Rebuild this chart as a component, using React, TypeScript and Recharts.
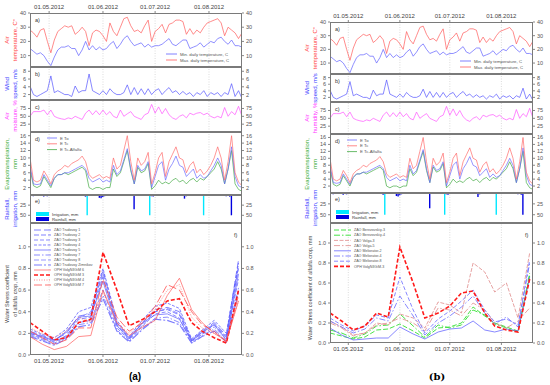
import React from 'react';
import { ComposedChart, Line, Bar, XAxis, YAxis, ReferenceLine } from 'recharts';

// day 0 = 20.04.2012, daily series sampled every 2 days
const STEP = 2;
const MONTH_DAYS = [11, 42, 72, 103];
const MONTH_LABELS = ['01.05.2012', '01.06.2012', '01.07.2012', '01.08.2012'];

const TMAX = [28, 26, 23, 28, 29, 20, 12, 21, 27, 29, 31, 30, 31, 25, 27, 30, 27, 17, 26, 28, 27, 24, 20, 33, 27, 24, 30, 36, 37, 31, 27, 28, 26, 31, 35, 20, 27, 29, 32, 26, 32, 33, 35, 35, 34, 25, 29, 25, 28, 26, 30, 33, 34, 35, 36, 33, 24, 30, 28, 26, 22, 26];
const TMIN = [15, 13, 11, 12, 10, 6, 3, 9, 14, 16, 16, 17, 15, 15, 10, 14, 20, 14, 17, 14, 16, 14, 15, 18, 20, 15, 18, 22, 24, 20, 17, 18, 19, 16, 18, 16, 17, 17, 18, 20, 22, 18, 17, 19, 21, 21, 15, 16, 17, 19, 16, 18, 20, 19, 22, 23, 20, 18, 21, 17, 17, 16];
const WIND = [4.2, 2, 1.5, 2, 2.5, 3, 6.8, 2.5, 3, 2.5, 2, 2, 1.5, 4.2, 2.5, 3, 3, 7.3, 3, 2.5, 2, 3, 2, 3.5, 2.5, 2, 2, 2.5, 4.5, 2, 3.8, 2, 3.5, 2, 3.5, 2, 3, 3.5, 2, 3, 3.8, 2.5, 3, 2, 2.8, 2, 2.5, 1.5, 2.5, 2, 3, 1.5, 2.5, 2, 2.5, 1.5, 2.5, 2, 4.8, 1.5, 3, 1];
const HUM = [50, 65, 65, 65, 70, 55, 70, 50, 45, 42, 40, 45, 42, 50, 45, 40, 60, 70, 55, 68, 55, 70, 55, 65, 50, 45, 70, 50, 58, 65, 50, 45, 40, 55, 60, 88, 60, 80, 58, 75, 55, 45, 40, 50, 55, 45, 60, 55, 60, 62, 55, 60, 50, 45, 50, 45, 78, 50, 65, 55, 82, 50];
const ETO = [8, 3, 2.8, 3, 5.5, 4, 2.5, 4.5, 5.5, 5.5, 6, 6, 6.5, 7, 7.5, 8, 7, 4.5, 3.5, 4, 4.5, 3.5, 4, 3.5, 8, 5.5, 6.5, 9.5, 12.5, 7, 3, 8, 6.5, 7, 9, 2, 5, 8, 9, 4, 7, 8.5, 10.5, 8, 7.5, 5, 6, 7, 4.5, 5.5, 4.5, 5, 6.5, 8, 10, 8, 3, 7, 13, 5, 2.5, 2];
const ETC = [10, 4, 3.5, 4, 6.5, 5, 3, 5.5, 6.5, 7, 8, 7.5, 8.5, 9, 9.5, 10.5, 9, 5.5, 4.5, 5, 5.5, 4.5, 5, 4.5, 10, 7, 8, 12, 16, 9, 4, 10, 8, 9, 11.5, 3, 6, 10, 11.5, 5, 9, 11, 13, 10, 9.5, 6, 8, 9, 6, 7, 5.5, 6.5, 8, 10, 13, 10, 4, 9, 16, 6, 3.5, 2.5];
const ETCA = [7, 2.5, 2, 2.5, 5, 3.5, 2, 4.5, 5.5, 5.5, 6, 5.5, 6, 6.5, 7, 7.5, 6.5, 2, 1.5, 2, 2, 1.5, 2, 2, 7, 5, 6, 9, 12, 6.5, 3, 7.5, 6, 6.5, 8.5, 1.5, 2.5, 4, 3, 3.5, 3, 4, 4.5, 3.5, 4, 3, 4, 4.5, 3.5, 4.5, 4, 5, 6, 7, 9, 7, 3, 7, 12, 3, 1.5, 1];

const IRR_DAYS = [33, 69, 100];
const IRR_MM = [50, 50, 50];
const RAIN_DAYS = [2, 5, 8, 10, 11, 32, 40, 41, 42, 43, 52, 59, 60, 70, 71, 79, 89, 90, 98, 106, 113, 115, 116];
const RAIN_MM = [3, 2, 4, 3, 2, 4, 7, 8, 5, 3, 2, 2, 35, 3, 4, 2, 9, 3, 2, 2, 3, 4, 50];

// water stress coefficient, weekly
const KS_DAYS = [0, 7, 14, 21, 28, 35, 42, 50, 57, 65, 72, 79, 86, 93, 99, 106, 113, 120];
const TRUD1 = [0.22, 0.18, 0.14, 0.2, 0.36, 0.38, 0.78, 0.3, 0.16, 0.3, 0.42, 0.44, 0.4, 0.14, 0.22, 0.3, 0.18, 0.88];
const TRUD2 = [0.2, 0.16, 0.12, 0.18, 0.33, 0.35, 0.72, 0.28, 0.15, 0.28, 0.4, 0.42, 0.37, 0.13, 0.2, 0.28, 0.16, 0.82];
const TRUD3 = [0.19, 0.15, 0.11, 0.17, 0.3, 0.32, 0.6, 0.25, 0.14, 0.27, 0.38, 0.4, 0.34, 0.12, 0.19, 0.26, 0.15, 0.7];
const TRUD4 = [0.24, 0.19, 0.16, 0.24, 0.4, 0.44, 0.8, 0.32, 0.17, 0.33, 0.45, 0.48, 0.43, 0.15, 0.23, 0.32, 0.2, 0.85];
const TRUD5 = [0.21, 0.17, 0.13, 0.22, 0.35, 0.36, 0.68, 0.27, 0.15, 0.3, 0.37, 0.38, 0.33, 0.13, 0.21, 0.28, 0.14, 0.75];
const TRUD7 = [0.18, 0.14, 0.1, 0.16, 0.28, 0.3, 0.55, 0.23, 0.13, 0.25, 0.34, 0.35, 0.3, 0.11, 0.18, 0.24, 0.13, 0.62];
const TRUD8 = [0.2, 0.17, 0.14, 0.21, 0.34, 0.4, 0.75, 0.29, 0.16, 0.31, 0.4, 0.43, 0.38, 0.14, 0.21, 0.29, 0.17, 0.8];
const TRUDZ = [0.17, 0.13, 0.09, 0.15, 0.26, 0.28, 0.52, 0.22, 0.12, 0.24, 0.33, 0.32, 0.28, 0.11, 0.17, 0.22, 0.12, 0.58];
const OPH6 = [0.17, 0.1, 0.05, 0.08, 0.17, 0.18, 0.6, 0.3, 0.18, 0.26, 0.32, 0.55, 0.71, 0.42, 0.3, 0.2, 0.13, 0.5];
const OPH3 = [0.3, 0.22, 0.14, 0.16, 0.3, 0.33, 0.95, 0.6, 0.27, 0.33, 0.4, 0.5, 0.52, 0.3, 0.22, 0.16, 0.11, 0.6];
const OPH4 = [0.25, 0.2, 0.16, 0.22, 0.35, 0.3, 0.58, 0.3, 0.2, 0.32, 0.42, 0.6, 0.65, 0.35, 0.25, 0.2, 0.14, 0.5];
const OPH7 = [0.22, 0.16, 0.1, 0.14, 0.25, 0.25, 0.7, 0.35, 0.22, 0.3, 0.45, 0.65, 0.6, 0.4, 0.28, 0.22, 0.12, 0.55];

const BER3 = [0.1, 0.07, 0.04, 0.06, 0.13, 0.14, 0.19, 0.12, 0.05, 0.15, 0.16, 0.2, 0.36, 0.27, 0.2, 0.16, 0.12, 0.67];
const BER4 = [0.13, 0.1, 0.05, 0.09, 0.17, 0.18, 0.29, 0.17, 0.06, 0.18, 0.15, 0.18, 0.33, 0.28, 0.19, 0.15, 0.11, 0.7];
const VOLGA3 = [0.22, 0.16, 0.08, 0.1, 0.2, 0.18, 0.29, 0.25, 0.15, 0.41, 0.38, 0.3, 0.8, 0.71, 0.51, 0.6, 0.25, 0.9];
const VOLGA5 = [0.2, 0.15, 0.07, 0.1, 0.18, 0.2, 0.25, 0.2, 0.12, 0.35, 0.33, 0.27, 0.4, 0.33, 0.2, 0.15, 0.22, 0.35];
const MEL2 = [0.15, 0.08, 0.03, 0.04, 0.05, 0.05, 0.16, 0.09, 0.04, 0.11, 0.14, 0.15, 0.22, 0.13, 0.11, 0.14, 0.12, 0.66];
const MEL4 = [0.22, 0.16, 0.1, 0.14, 0.25, 0.22, 0.47, 0.27, 0.08, 0.2, 0.27, 0.36, 0.47, 0.3, 0.19, 0.26, 0.16, 0.8];
const MEL8 = [0.25, 0.18, 0.12, 0.17, 0.28, 0.25, 0.66, 0.33, 0.1, 0.24, 0.32, 0.42, 0.53, 0.33, 0.21, 0.24, 0.18, 0.83];
const OPH3B = [0.3, 0.22, 0.13, 0.17, 0.3, 0.26, 0.96, 0.6, 0.25, 0.3, 0.37, 0.5, 0.52, 0.3, 0.17, 0.13, 0.11, 0.64];

const FONT = 'Arial, "Liberation Sans", sans-serif';
const AW = 14; // y axis band
const XH = 9; // date label band

const daily = TMAX.map((v, i) => ({
  day: i * STEP, tmax: v, tmin: TMIN[i], wind: WIND[i], hum: HUM[i], eto: ETO[i], etc: ETC[i], etca: ETCA[i],
}));
const events = [
  ...IRR_DAYS.map((d, i) => ({ day: d, irr: IRR_MM[i], rain: 0 })),
  ...RAIN_DAYS.map((d, i) => ({ day: d, irr: 0, rain: RAIN_MM[i] })),
].sort((a, b) => a.day - b.day);

const KS_A = [
  { key: 'ZAO Trudovoy 1', v: TRUD1, color: '#4a4aff', dash: '7 3', w: 0.7 },
  { key: 'ZAO Trudovoy 2', v: TRUD2, color: '#4a4aff', dash: '5 2', w: 0.7 },
  { key: 'ZAO Trudovoy 3', v: TRUD3, color: '#5a5aff', dash: '4 2', w: 0.7 },
  { key: 'ZAO Trudovoy 4', v: TRUD4, color: '#4a4aff', dash: '3 1.5', w: 0.7 },
  { key: 'ZAO Trudovoy 5', v: TRUD5, color: '#5a5aff', dash: undefined, w: 0.7 },
  { key: 'ZAO Trudovoy 7', v: TRUD7, color: '#5a5aff', dash: '6 2 1.5 2', w: 0.7 },
  { key: 'ZAO Trudovoy 8', v: TRUD8, color: '#6a6aff', dash: '5 2', w: 0.7 },
  { key: 'ZAO Trudovoy Zimnikov', v: TRUDZ, color: '#7a7aff', dash: '8 2 2 2', w: 1.1 },
  { key: 'OPH VolgNIIGiM 6', v: OPH6, color: '#ff5a5a', dash: undefined, w: 0.7 },
  { key: 'OPH VolgNIIGiM 3', v: OPH3, color: '#ff1a1a', dash: '4 2', w: 1.6 },
  { key: 'OPH VolgNIIGiM 4', v: OPH4, color: '#ff7070', dash: '1 1.5', w: 0.8 },
  { key: 'OPH VolgNIIGiM 7', v: OPH7, color: '#ff5050', dash: '8 3', w: 0.8 },
];
const KS_B = [
  { key: 'ZAO Berezovskiy-3', v: BER3, color: '#33e033', dash: '5 2', w: 0.9 },
  { key: 'ZAO Berezovskiy-4', v: BER4, color: '#33e033', dash: '6 2 1.5 2', w: 0.9 },
  { key: 'ZAO Volga-3', v: VOLGA3, color: '#e08a8a', dash: '4 1.5', w: 0.8 },
  { key: 'ZAO Volga-5', v: VOLGA5, color: '#e08a8a', dash: '6 2 1.5 2', w: 0.8 },
  { key: 'ZAO Meliorator-2', v: MEL2, color: '#6a6aff', dash: undefined, w: 0.8 },
  { key: 'ZAO Meliorator-4', v: MEL4, color: '#6a6aff', dash: '6 2 1.5 2', w: 0.8 },
  { key: 'ZAO Meliorator-8', v: MEL8, color: '#6a6aff', dash: '4 2', w: 0.8 },
  { key: 'OPH VolgNIIGiM-3', v: OPH3B, color: '#ff1a1a', dash: '4 2', w: 1.6 },
];
const ksRows = (series: any[]) =>
  KS_DAYS.map((day, i) => {
    const r: any = { day };
    series.forEach((s) => (r[s.key] = s.v[i]));
    return r;
  });

type P = { x0: number; x1: number; ys: number[] };

// one stacked strip: chart + frame
function Sub({ p, k, axis, domain, ticks, fmt, reversed, data, children }: any) {
  const y0 = p.ys[k];
  const y1 = p.ys[k + 1];
  const th = axis ? XH : 0;
  const tick = { fontSize: 5.5, fill: '#555', fontFamily: FONT };
  return (
    <>
      <div style={{ position: 'absolute', left: p.x0 - AW, top: y0 - (axis === 'top' ? th : 0) }}>
        <ComposedChart width={p.x1 - p.x0 + 2 * AW} height={y1 - y0 + th} data={data}
          margin={{ top: 0, right: 0, bottom: 0, left: 0 }}>
          <XAxis type="number" dataKey="day" domain={[0, 122]} allowDataOverflow ticks={MONTH_DAYS}
            hide={!axis} orientation={axis === 'top' ? 'top' : 'bottom'} height={th}
            tickFormatter={(v: number) => MONTH_LABELS[MONTH_DAYS.indexOf(v)]}
            tick={{ fontSize: 6, fill: '#444', fontFamily: FONT }} axisLine={false}
            tickSize={2} tickLine={{ stroke: '#888' }} />
          <YAxis yAxisId="l" type="number" width={AW} domain={domain} ticks={ticks} reversed={reversed}
            allowDataOverflow tickFormatter={fmt} tick={tick} axisLine={false} tickSize={2}
            tickLine={{ stroke: '#888' }} interval={0} />
          <YAxis yAxisId="r" orientation="right" type="number" width={AW} domain={domain} ticks={ticks}
            reversed={reversed} allowDataOverflow tickFormatter={fmt} tick={tick} axisLine={false}
            tickSize={2} tickLine={{ stroke: '#888' }} interval={0} />
          {MONTH_DAYS.map((d) => (
            <ReferenceLine key={d} x={d} yAxisId="l" stroke="#c4c4c4" strokeWidth={0.6} strokeDasharray="1 1.5" />
          ))}
          {children}
        </ComposedChart>
      </div>
      <div style={{
        position: 'absolute', left: p.x0, top: y0, width: p.x1 - p.x0, height: y1 - y0,
        border: '0.8px solid #7a7a7a', boxSizing: 'border-box', pointerEvents: 'none',
      }} />
    </>
  );
}

function YLabel({ x, y, color, lines, fs = 6 }: any) {
  return (
    <div style={{
      position: 'absolute', left: x, top: y, transform: 'translate(-50%, -50%) rotate(-90deg)',
      color, fontSize: fs, lineHeight: `${fs + 2}px`, fontFamily: FONT, whiteSpace: 'nowrap', textAlign: 'center',
    }}>
      {lines.map((l: string, i: number) => <div key={i}>{l}</div>)}
    </div>
  );
}

function Tag({ x, y, t }: any) {
  return <div style={{ position: 'absolute', left: x, top: y, fontSize: 5.5, fontFamily: FONT, color: '#333', lineHeight: '6px' }}>{t}</div>;
}

function LineLegend({ x, y, gap, lw, items, fs }: any) {
  return (
    <svg style={{ position: 'absolute', left: x, top: y, overflow: 'visible' }} width={1} height={1}>
      {items.map((it: any, i: number) => (
        <g key={i}>
          <line x1={0} x2={lw} y1={i * gap} y2={i * gap} stroke={it.color} strokeWidth={it.w}
            strokeDasharray={it.dash} />
          <text x={lw + 3} y={i * gap} dy="0.35em" fontSize={fs} fill="#555" fontFamily={FONT}>{it.key}</text>
        </g>
      ))}
    </svg>
  );
}

function Panel({ p, hum, ks, ksDomain, fLabel }: any) {
  const w = p.x1 - p.x0;
  const ys = p.ys;
  const lx = p.x0 - 19;
  const mid = (k: number) => (ys[k] + ys[k + 1]) / 2;
  const line = (key: string, color: string) => (
    <Line yAxisId="l" dataKey={key} stroke={color} strokeWidth={0.7} dot={false} isAnimationActive={false} />
  );
  return (
    <>
      <Sub p={p} k={0} axis="top" domain={[2, 40]} ticks={[10, 20, 30, 40]} data={daily}>
        {line('tmin', '#6060ff')}
        {line('tmax', '#ff5a5a')}
      </Sub>
      <Sub p={p} k={1} domain={[0.6, 9.1]} ticks={[2, 4, 6, 8]} data={daily}>
        {line('wind', '#5555ff')}
      </Sub>
      <Sub p={p} k={2} domain={[0, 102]} ticks={[25, 50, 75]} data={daily}>
        {line('hum', '#ff55ff')}
      </Sub>
      <Sub p={p} k={3} domain={[0, 17]} ticks={[2, 4, 6, 8, 10, 12, 14, 16]} data={daily}>
        {line('etca', '#44aa44')}
        {line('eto', '#6a6aff')}
        {line('etc', '#ff6a6a')}
      </Sub>
      <Sub p={p} k={4} domain={[0, 69]} ticks={[25, 50]} reversed data={events}>
        <Bar yAxisId="l" dataKey="irr" stackId="e" fill="#00e8ff" barSize={1.4} isAnimationActive={false} />
        <Bar yAxisId="l" dataKey="rain" stackId="e" fill="#0000e0" barSize={1.4} isAnimationActive={false} />
      </Sub>
      <Sub p={p} k={5} axis="bottom" domain={ksDomain} ticks={[0, 0.2, 0.4, 0.6, 0.8, 1.0]}
        fmt={(v: number) => v.toFixed(1)} data={ksRows(ks)}>
        {ks.map((s: any) => (
          <Line key={s.key} yAxisId="l" dataKey={s.key} stroke={s.color} strokeWidth={s.w}
            strokeDasharray={s.dash} dot={false} isAnimationActive={false} />
        ))}
      </Sub>

      <YLabel x={lx} y={mid(0)} color="#ff3b3b" lines={['Air', 'temperature, C\u00b0']} />
      <YLabel x={lx} y={mid(1)} color="#4040ff" lines={['Wind', 'speed, m/s']} />
      <YLabel x={lx} y={mid(2)} color="#ff33ff" lines={['Air', hum]} />
      <YLabel x={lx} y={mid(3)} color="#33aa33" lines={['Evapotranspiration,', 'mm']} />
      <YLabel x={lx} y={mid(4)} color="#4040ff" lines={['Rainfall,', 'irrigation, mm']} />
      <YLabel x={lx} y={mid(5) + 5} color="#444" lines={fLabel} fs={5.5} />

      <Tag x={p.x0 + 5} y={ys[0] + 4} t="a)" />
      <Tag x={p.x0 + 5} y={ys[1] + 4} t="b)" />
      <Tag x={p.x0 + 5} y={ys[2] + 4} t="c)" />
      <Tag x={p.x0 + 5} y={ys[3] + 4} t="d)" />
      <Tag x={p.x0 + 5} y={ys[4] + 3} t="e)" />
      <Tag x={p.x1 - 8} y={ys[5] + 9} t="f)" />

      <LineLegend x={p.x0 + 0.64 * w} y={ys[1] - 13} gap={6} lw={11} fs={4.3}
        items={[{ key: 'Min. daily temperature, C', color: '#6060ff', w: 0.8 }, { key: 'Max. daily temperature, C', color: '#ff5a5a', w: 0.8 }]} />
      <LineLegend x={p.x0 + 17} y={ys[3] + 5.5} gap={5.8} lw={10} fs={4.3}
        items={[{ key: 'E To', color: '#6a6aff', w: 0.8 }, { key: 'E Tc', color: '#ff6a6a', w: 0.8 }, { key: 'E Tc-Alfalfa', color: '#44aa44', w: 0.8 }]} />
      <div style={{ position: 'absolute', left: p.x0 + 6, top: ys[4] + 16.5, fontFamily: FONT, fontSize: 4.3, color: '#333' }}>
        <div style={{ display: 'flex', alignItems: 'center', height: 5 }}>
          <span style={{ width: 13, height: 4, background: '#00e8ff', marginRight: 3 }} />Irrigation, mm
        </div>
        <div style={{ display: 'flex', alignItems: 'center', height: 5 }}>
          <span style={{ width: 13, height: 4, background: '#0000e0', marginRight: 3 }} />Rainfall, mm
        </div>
      </div>
      <LineLegend x={p.x0 + 4} y={ys[5] + 7} gap={ks.length > 8 ? 5 : 5.2} lw={17} fs={3.6} items={ks} />
    </>
  );
}

const PA: P = { x0: 30, x1: 242, ys: [13, 67, 100, 132, 195, 223, 355] };
const PB: P = { x0: 330, x1: 533, ys: [22, 74, 102, 134, 193, 223, 343] };

export default function App() {
  return (
    <div style={{ position: 'absolute', left: 0, top: 0, width: 550, height: 385, background: '#fff', overflow: 'hidden' }}>
      <Panel p={PA} hum="moisture, %" ks={KS_A} ksDomain={[0, 1.22]}
        fLabel={['Water Stress coefficient', 'of alfalfa crop, mm']} />
      <Panel p={PB} hum="humidity, %" ks={KS_B} ksDomain={[0, 1.2]}
        fLabel={['Water Stress coefficient of alfalfa crop, mm']} />
      <div style={{ position: 'absolute', left: 135, top: 376, transform: 'translate(-50%, -50%)', fontFamily: FONT, fontWeight: 'bold', fontSize: 10 }}>(a)</div>
      <div style={{ position: 'absolute', left: 437, top: 376, transform: 'translate(-50%, -50%)', fontFamily: '"DejaVu Serif", "Liberation Serif", serif', fontWeight: 'bold', fontSize: 10 }}>(b)</div>
    </div>
  );
}
